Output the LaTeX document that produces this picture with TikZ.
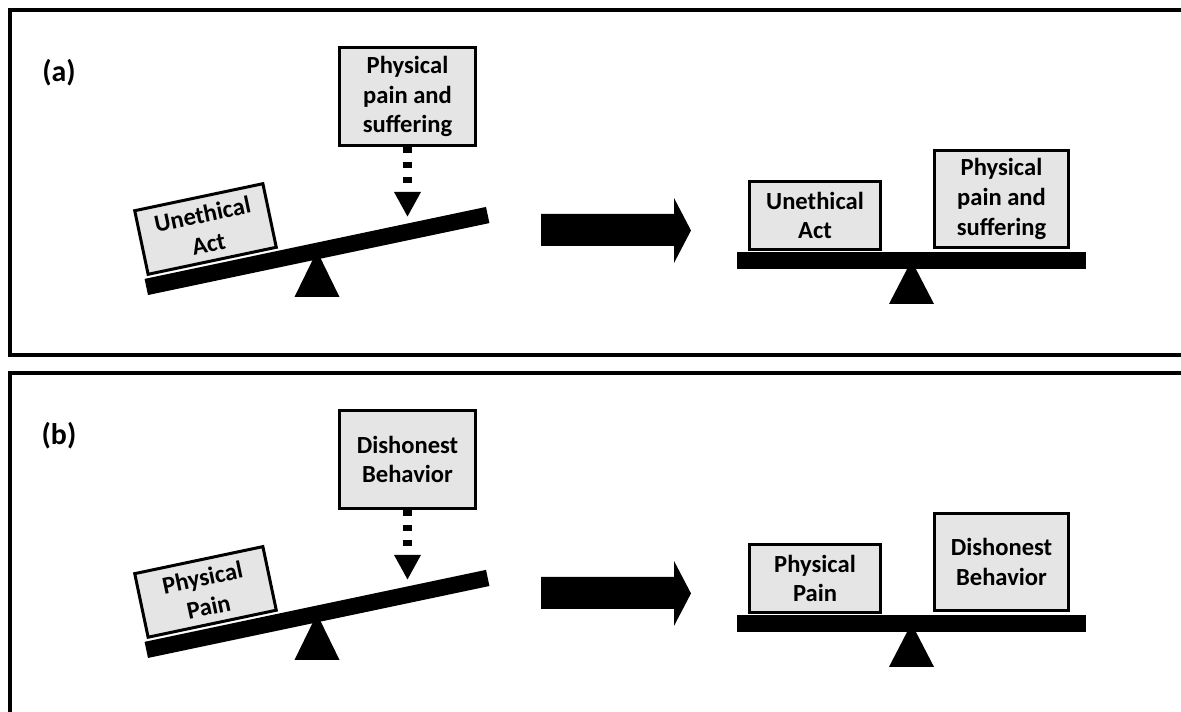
\documentclass[tikz,border=0pt]{standalone}
\usepackage{fontspec}
\setmainfont{Carlito}
\usetikzlibrary{arrows.meta}
\tikzset{
  panel/.style={draw, line width=0.07cm},
  weight/.style={draw, line width=0.06cm, fill=black!10, align=center, inner sep=0pt, font=\bfseries\fontsize{14}{17}\selectfont},
  beam/.style={fill=black, inner sep=0pt, minimum width=6.98cm, minimum height=0.33cm},
  pivot/.style={fill=black},
  drop/.style={line width=0.18cm, dash pattern=on 0.13cm off 0.17cm, -{Triangle[width=0.5cm,length=0.5cm]}},
  tag/.style={font=\bfseries\fontsize{17}{20}\selectfont},
  bigarrow/.style={fill=black}
}
\begin{document}
\begin{tikzpicture}[x=0.02cm,y=-0.02cm]
\clip (0,0) rectangle (1181,712);
% panneau (a)
\draw[panel] (10,10) rectangle (1200,355);
\node[tag] (labelA) at (59,73) {(a)};
\node[beam, rotate=11.9] (tiltbeamA) at (317,251) {};
\fill[pivot] (tiltbeamA.center) -- +(-22.5,46) -- +(22.5,46) -- cycle;
\node[weight, rotate=11.9, minimum width=2.62cm, minimum height=1.3cm] (tiltboxA) at (205.5,229) {Unethical\\Act};
\node[weight, minimum width=2.72cm, minimum height=1.96cm] (dropboxA) at (407.5,96.5) {Physical\\pain and\\suffering};
\coordinate (hitA) at (407.5,217);
\draw[drop] (dropboxA.south) -- (hitA);
\fill[bigarrow] (541,214) -- (674,214) -- (674,198) -- (691,230.5) -- (674,263) -- (674,246) -- (541,246) -- cycle;
\node[beam] (flatbeamA) at (911.5,260.5) {};
\fill[pivot] (flatbeamA.center) -- +(-22.5,43.5) -- +(22.5,43.5) -- cycle;
\node[weight, minimum width=2.62cm, minimum height=1.36cm] (restleftA) at (815,215.5) {Unethical\\Act};
\node[weight, minimum width=2.68cm, minimum height=1.94cm] (restrightA) at (1001.5,199) {Physical\\pain and\\suffering};
% panneau (b), meme chose 363 px plus bas
\begin{scope}[yshift=-7.26cm]
\draw[panel] (10,10) rectangle (1200,400);
\node[tag] (labelB) at (59,73) {(b)};
\node[beam, rotate=11.9] (tiltbeamB) at (317,251) {};
\fill[pivot] (tiltbeamB.center) -- +(-22.5,46) -- +(22.5,46) -- cycle;
\node[weight, rotate=11.9, minimum width=2.62cm, minimum height=1.3cm] (tiltboxB) at (205.5,229) {Physical\\Pain};
\node[weight, minimum width=2.72cm, minimum height=1.96cm] (dropboxB) at (407.5,96.5) {Dishonest\\Behavior};
\coordinate (hitB) at (407.5,217);
\draw[drop] (dropboxB.south) -- (hitB);
\fill[bigarrow] (541,214) -- (674,214) -- (674,198) -- (691,230.5) -- (674,263) -- (674,246) -- (541,246) -- cycle;
\node[beam] (flatbeamB) at (911.5,260.5) {};
\fill[pivot] (flatbeamB.center) -- +(-22.5,43.5) -- +(22.5,43.5) -- cycle;
\node[weight, minimum width=2.62cm, minimum height=1.36cm] (restleftB) at (815,215.5) {Physical\\Pain};
\node[weight, minimum width=2.68cm, minimum height=1.94cm] (restrightB) at (1001.5,199) {Dishonest\\Behavior};
\end{scope}
\end{tikzpicture}
\end{document}
